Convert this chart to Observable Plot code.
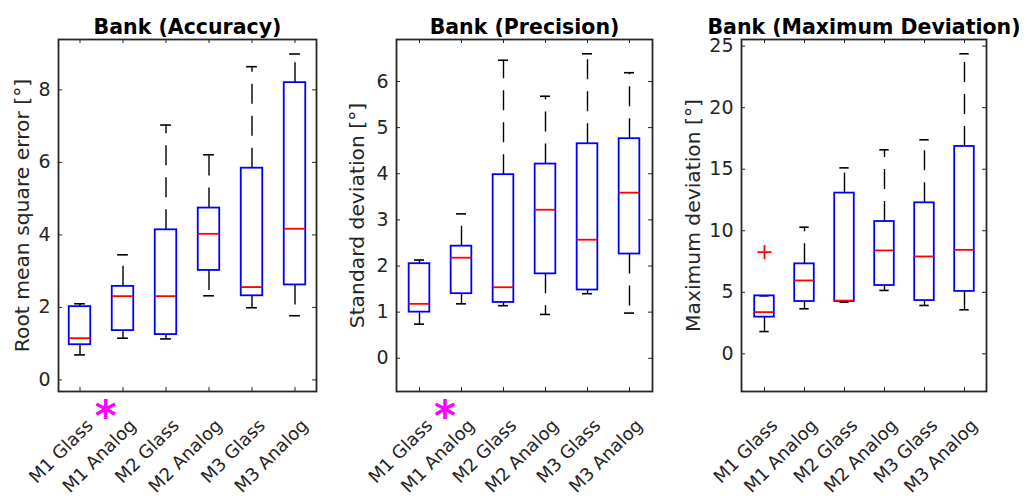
<!DOCTYPE html>
<html>
<head>
<meta charset="utf-8">
<script src="https://cdn.jsdelivr.net/npm/d3@7"></script>
<script src="https://cdn.jsdelivr.net/npm/@observablehq/plot@0.6"></script>
<style>
  body { margin: 0; background: #fff; }
  #fig { position: relative; width: 1027px; height: 498px; overflow: hidden; background: #fff; }
  .panel { position: absolute; top: 0; }
  .panel svg { overflow: visible; }
</style>
</head>
<body>
<div id="fig"></div>
<script>
// Six display/method conditions shared by all three panels
const groups = ["M1 Glass", "M1 Analog", "M2 Glass", "M2 Analog", "M3 Glass", "M3 Analog"];

// Bank accuracy: RMS error [deg] box summaries
const accLow = [0.69, 1.15, 1.13, 2.32, 1.99, 1.77];
const accQ1  = [0.97, 1.36, 1.25, 3.02, 2.32, 2.62];
const accMed = [1.15, 2.31, 2.31, 4.03, 2.56, 4.17];
const accQ3  = [2.02, 2.58, 4.14, 4.74, 5.84, 8.20];
const accHigh = [2.10, 3.45, 7.03, 6.21, 8.64, 8.99];
const accTicks = [0, 2, 4, 6, 8];

// Bank precision: standard deviation [deg] box summaries
const precLow = [0.74, 1.18, 1.14, 0.95, 1.40, 0.98];
const precQ1  = [1.00, 1.40, 1.21, 1.83, 1.48, 2.26];
const precMed = [1.18, 2.18, 1.54, 3.22, 2.57, 3.59];
const precQ3  = [2.05, 2.43, 3.98, 4.21, 4.65, 4.76];
const precHigh = [2.13, 3.13, 6.46, 5.68, 6.60, 6.19];
const precTicks = [0, 1, 2, 3, 4, 5, 6];

// Bank maximum deviation [deg] box summaries
const maxLow = [1.81, 3.66, 4.20, 5.15, 3.93, 3.58];
const maxQ1  = [2.98, 4.25, 4.25, 5.55, 4.33, 5.07];
const maxMed = [3.39, 5.96, 4.33, 8.40, 7.91, 8.45];
const maxQ3  = [4.71, 7.31, 13.06, 10.75, 12.27, 16.85];
const maxHigh = [4.71, 10.29, 15.11, 16.58, 17.39, 24.38];
const maxTicks = [0, 5, 10, 15, 20, 25];
const maxOutlierGroups = ["M1 Glass"];
const maxOutlierValues = [8.26];

// Significant pair marked with an asterisk (left member of the pair)
const sigAfter = "M1 Glass";

const TEXT = "#262626";
const FONT = "DejaVu Sans, Liberation Sans, sans-serif";

// plus-shaped outlier marker drawn with strokes
const plusSymbol = {
  draw(ctx, size) {
    const r = Math.sqrt(size) * 0.5;
    ctx.moveTo(-r, 0); ctx.lineTo(r, 0);
    ctx.moveTo(0, -r); ctx.lineTo(0, r);
  }
};

function rowsOf(low, q1, med, q3, high) {
  return groups.map((g, i) => ({g, low: low[i], q1: q1[i], med: med[i], q3: q3[i], high: high[i]}));
}

function panel({left, width, marginLeft, marginRight, title, ylabel, ydomain, ticks, rows, outliers = [], sig = null, labelDx}) {
  const height = 498, marginTop = 39, marginBottom = 107;
  const fw = width - marginLeft - marginRight;
  const fh = height - marginTop - marginBottom;
  const bw = fw / groups.length;
  const boxInset = bw * 0.25;
  const capInset = bw * 0.375;
  const tickLen = 4;
  const marks = [
    // inward tick marks on all four sides
    Plot.ruleY(ticks, {y: d => d, insetRight: fw - tickLen, stroke: TEXT, strokeWidth: 1}),
    Plot.ruleY(ticks, {y: d => d, insetLeft: fw - tickLen, stroke: TEXT, strokeWidth: 1}),
    Plot.ruleX(groups, {x: d => d, insetTop: fh - tickLen, stroke: TEXT, strokeWidth: 1}),
    Plot.ruleX(groups, {x: d => d, insetBottom: fh - tickLen, stroke: TEXT, strokeWidth: 1}),
    Plot.axisY({ticks, tickSize: 0, tickPadding: 8, label: null, fontSize: 19, fill: TEXT}),
    Plot.axisX({tickSize: 0, tickRotate: -45, tickPadding: 6, dx: 10, dy: 25, label: null, fontSize: 18, fill: TEXT}),
    // whiskers, dashed from the box edge outwards
    Plot.ruleX(rows, {x: "g", y1: "q3", y2: "high", stroke: "#000", strokeWidth: 1.4, strokeDasharray: "20,12"}),
    Plot.ruleX(rows, {x: "g", y1: "q1", y2: "low", stroke: "#000", strokeWidth: 1.4, strokeDasharray: "20,12"}),
    // whisker caps
    Plot.tickY(rows, {x: "g", y: "high", stroke: "#000", strokeWidth: 1.6, insetLeft: capInset, insetRight: capInset}),
    Plot.tickY(rows, {x: "g", y: "low", stroke: "#000", strokeWidth: 1.6, insetLeft: capInset, insetRight: capInset}),
    // interquartile boxes
    Plot.barY(rows, {x: "g", y1: "q1", y2: "q3", fill: "none", stroke: "#0000ff", strokeWidth: 1.8, insetLeft: boxInset, insetRight: boxInset}),
    // medians
    Plot.tickY(rows, {x: "g", y: "med", stroke: "#ff0000", strokeWidth: 1.8, insetLeft: boxInset, insetRight: boxInset}),
    Plot.dot(outliers, {x: "g", y: "v", symbol: plusSymbol, r: 8, stroke: "#ff0000", strokeWidth: 1.8, fill: "none"}),
    Plot.frame({stroke: TEXT, strokeWidth: 1.8}),
    // title and y-axis label
    Plot.text([title], {frameAnchor: "top", dy: -20.5, fontSize: 20.5, fontWeight: "bold", fill: "#000", text: d => d}),
    Plot.text([ylabel], {frameAnchor: "left", textAnchor: "middle", dx: labelDx, rotate: -90, fontSize: 20.3, fill: TEXT, text: d => d})
  ];
  if (sig) {
    marks.push(Plot.text([sig], {x: d => d, frameAnchor: "bottom", dx: bw * 0.6, dy: 39, text: () => "*", fontSize: 42, fontWeight: "bold", fill: "#ff00ff"}));
  }
  const svg = Plot.plot({
    width, height, marginLeft, marginRight, marginTop, marginBottom,
    style: {fontFamily: FONT, background: "transparent", color: TEXT},
    x: {domain: groups, padding: 0, axis: null},
    y: {domain: ydomain, axis: null},
    marks
  });
  const div = document.createElement("div");
  div.className = "panel";
  div.style.left = left + "px";
  div.appendChild(svg);
  document.getElementById("fig").appendChild(div);
}

panel({
  left: 0, width: 340, marginLeft: 58, marginRight: 24,
  title: "Bank (Accuracy)", ylabel: "Root mean square error [°]",
  ydomain: [-0.32, 9.39], ticks: accTicks,
  rows: rowsOf(accLow, accQ1, accMed, accQ3, accHigh),
  sig: sigAfter, labelDx: -36
});
panel({
  left: 340, width: 340, marginLeft: 56, marginRight: 28,
  title: "Bank (Precision)", ylabel: "Standard deviation [°]",
  ydomain: [-0.72, 6.91], ticks: precTicks,
  rows: rowsOf(precLow, precQ1, precMed, precQ3, precHigh),
  sig: sigAfter, labelDx: -39
});
panel({
  left: 680, width: 347, marginLeft: 61, marginRight: 41,
  title: "Bank (Maximum Deviation)", ylabel: "Maximum deviation [°]",
  ydomain: [-3.06, 25.54], ticks: maxTicks,
  rows: rowsOf(maxLow, maxQ1, maxMed, maxQ3, maxHigh),
  outliers: maxOutlierGroups.map((g, i) => ({g, v: maxOutlierValues[i]})),
  labelDx: -48
});
</script>
</body>
</html>
